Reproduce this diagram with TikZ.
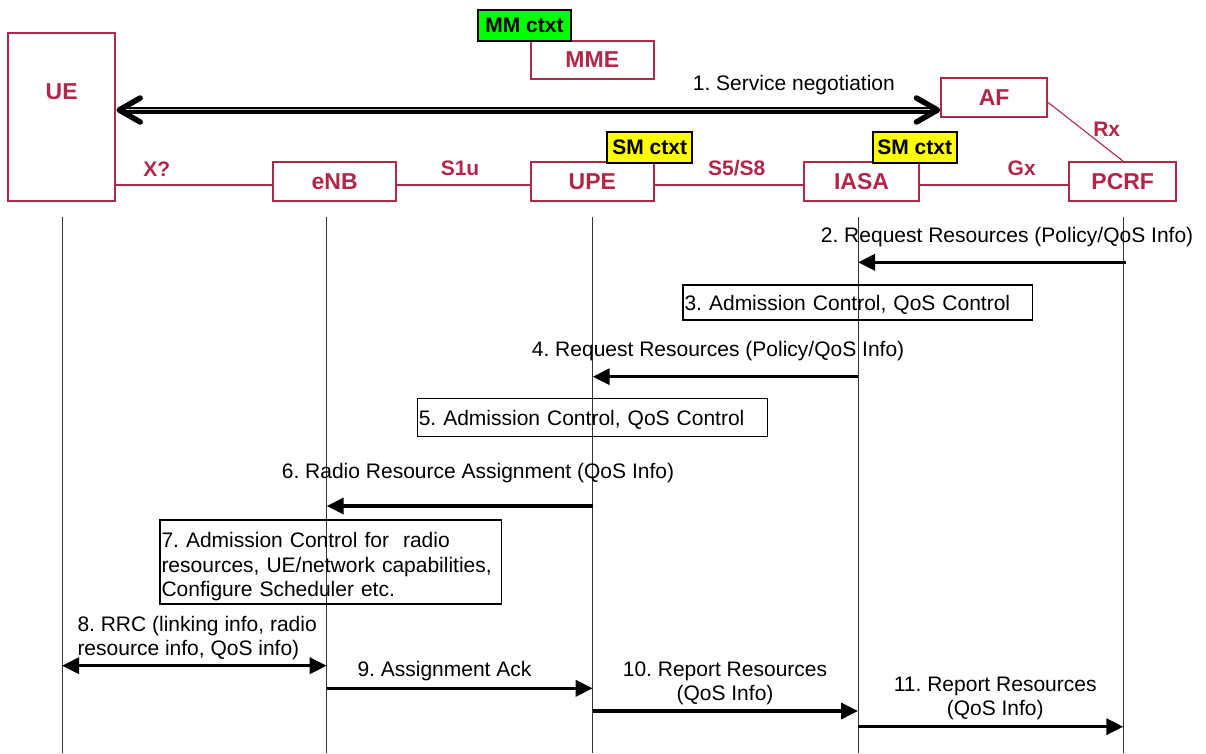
\documentclass[tikz,border=0pt]{standalone}
\usepackage{fontspec}
\setmainfont{Liberation Sans}
\usetikzlibrary{arrows.meta}
\definecolor{netred}{RGB}{178,38,72}
\definecolor{ctxgreen}{RGB}{0,255,0}
\definecolor{ctxyellow}{RGB}{255,255,0}
\frenchspacing
\begin{document}
\begin{tikzpicture}[x=1pt,y=-1pt,
  entity/.style={draw=netred, line width=2.2pt, fill=white, inner sep=0pt,
    font=\fontsize{23}{26}\selectfont\bfseries, text=netred},
  ifname/.style={font=\fontsize{21}{24}\selectfont\bfseries, text=netred, inner sep=0pt},
  ctx/.style={draw=black, line width=1.8pt, inner sep=0pt,
    font=\fontsize{21}{24}\selectfont\bfseries},
  link/.style={draw=netred, line width=1.1pt},
  life/.style={draw=black!80, line width=1pt},
  msg/.style={draw=black, line width=3.5pt, -{Triangle[length=17pt,width=16pt]}},
  msgtext/.style={font=\fontsize{21}{23.5}\selectfont, inner sep=0pt},
  note/.style={draw=black, line width=1.2pt, font=\fontsize{21}{24.5}\selectfont,
    inner xsep=1.5pt, inner ysep=0pt, align=left},
  chevron/.tip={Straight Barb[length=21pt,width=24pt,line width=5.5pt,round]},
]
\useasboundingbox (0,0) rectangle (1206,753);

% network entities
\node[entity, minimum width=107.3pt, minimum height=168pt] (ue) at (61.7,116.7) {};
\node[entity, draw=none, fill=none] (uename) at (61.7,91.7) {UE};
\node[entity, minimum width=122.7pt, minimum height=38.7pt] (enb) at (334.7,181.3) {eNB};
\node[entity, minimum width=123.3pt, minimum height=38.3pt] (mme) at (592.3,59.8) {MME};
\node[entity, minimum width=123.3pt, minimum height=38.7pt] (upe) at (592.3,181.3) {UPE};
\node[entity, minimum width=115pt, minimum height=38.7pt] (iasa) at (861.5,181.3) {IASA};
\node[entity, minimum width=105.7pt, minimum height=38.4pt] (af) at (994.2,97.5) {AF};
\node[entity, minimum width=106.7pt, minimum height=38.7pt] (pcrf) at (1122.7,181.3) {PCRF};

% context tags
\node[ctx, fill=ctxgreen, minimum width=92.4pt, minimum height=31.3pt] (mmctx) at (524.5,25.7) {MM ctxt};
\node[ctx, fill=ctxyellow, minimum width=84.7pt, minimum height=31.6pt] (smupe) at (649.7,147.5) {SM ctxt};
\node[ctx, fill=ctxyellow, minimum width=84pt, minimum height=31.6pt] (smiasa) at (914.7,147.5) {SM ctxt};

% interfaces
\coordinate (bus) at (0,185);
\draw[link] (ue.east |- bus) -- (enb.west |- bus);
\draw[link] (enb.east |- bus) -- (upe.west |- bus);
\draw[link] (upe.east |- bus) -- (iasa.west |- bus);
\draw[link] (iasa.east |- bus) -- (pcrf.west |- bus);
\draw[link] ([yshift=-5pt]af.east) -- (pcrf.north);
\node[ifname] (ifx) at (156.7,169) {X?};
\node[ifname] (ifs1) at (460,168.3) {S1u};
\node[ifname] (ifs5) at (736.7,168.3) {S5/S8};
\node[ifname] (ifgx) at (1021.7,168.3) {Gx};
\node[ifname] (ifrx) at (1106.7,129.3) {Rx};

% service negotiation: heavy line with a light centre stripe
\coordinate (afin) at ([yshift=-12.5pt]af.west);
\draw[black, line width=7pt, chevron-chevron] (ue.east |- afin) -- (afin);
\draw[gray!45, line width=0.9pt, shorten <=10pt, shorten >=10pt]
  ([yshift=0.6pt]ue.east |- afin) -- ([yshift=0.6pt]afin);
\node[msgtext, anchor=base west] (t1) at (692.7,90.7) {1. Service negotiation};

% lifelines
\coordinate (bot) at (0,753);
\coordinate (lUE) at (62,216.7);
\coordinate (lENB) at (326.7,216.7);
\coordinate (lUPE) at (592.7,216.7);
\coordinate (lIASA) at (858,216.7);
\coordinate (lPCRF) at (1123.3,216.7);
\foreach \l in {lUE,lENB,lUPE,lIASA,lPCRF}
  \draw[life] (\l) -- (\l |- bot);

% message rows
\coordinate (r2) at (0,262.3);
\coordinate (r4) at (0,376.7);
\coordinate (r6) at (0,506);
\coordinate (r8) at (0,665.7);
\coordinate (r9) at (0,688.3);
\coordinate (r10) at (0,711);
\coordinate (r11) at (0,726.7);

\node[msgtext, anchor=base west] (t2) at (820.7,242.7) {2. Request Resources (Policy/QoS Info)};
\draw[msg] ([xshift=2.5pt]lPCRF |- r2) -- (lIASA |- r2);

\node[note, text width=346.3pt, minimum height=35pt] (n3) at (857.7,302.5)
  {\rule{0pt}{19pt}3. Admission Control, QoS Control};

\node[msgtext, anchor=base west] (t4) at (531.7,356.7) {4. Request Resources (Policy/QoS Info)};
\draw[msg] (lIASA |- r4) -- (lUPE |- r4);

\node[note, text width=347.4pt, minimum height=38.4pt] (n5) at (592.5,417.5)
  {\rule{0pt}{19pt}5. Admission Control, QoS Control};

\node[msgtext, anchor=base west] (t6) at (281.7,478) {6. Radio Resource Assignment (QoS Info)};
\draw[msg] (lUPE |- r6) -- (lENB |- r6);

\node[note, text width=338.7pt, minimum height=84pt] (n7) at (330.85,562)
  {\rule{0pt}{25pt}7. Admission Control for\ \ radio\\resources, UE/network capabilities,\\Configure Scheduler etc.};

\node[msgtext, anchor=base west, align=left] (t8) at (77.3,655)
  {8. RRC (linking info, radio\\resource info, QoS info)};
\draw[msg, {Triangle[length=17pt,width=16pt]}-{Triangle[length=17pt,width=16pt]}]
  (lUE |- r8) -- (lENB |- r8);

\node[msgtext, anchor=base west] (t9) at (357.3,676) {9. Assignment Ack};
\draw[msg] (lENB |- r9) -- (lUPE |- r9);

\node[msgtext, anchor=base, align=center] (t10) at (725,700) {10. Report Resources\\(QoS Info)};
\draw[msg] (lUPE |- r10) -- (lIASA |- r10);

\node[msgtext, anchor=base, align=center] (t11) at (995.2,715) {11. Report Resources\\(QoS Info)};
\draw[msg] (lIASA |- r11) -- (lPCRF |- r11);

\end{tikzpicture}
\end{document}
